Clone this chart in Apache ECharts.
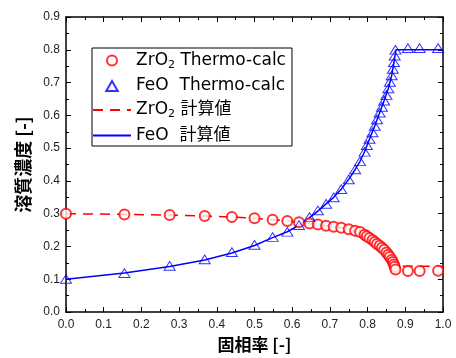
<!DOCTYPE html>
<html>
<head>
<meta charset="utf-8">
<script src="https://cdn.jsdelivr.net/npm/echarts@6/dist/echarts.min.js"></script>
<style>
  html, body { margin: 0; padding: 0; background: #fff; }
  #main { width: 456px; height: 358px; }
</style>
</head>
<body>
<div id="main"></div>
<script>
// Thermo-calc points (same solid fractions for both solutes)
const tcX = [0, 0.155, 0.275, 0.368, 0.44, 0.5, 0.548, 0.587, 0.618, 0.646, 0.668, 0.69, 0.71, 0.73, 0.75, 0.767,
  0.78, 0.792, 0.798, 0.805, 0.813, 0.819, 0.825, 0.832, 0.838, 0.844, 0.85, 0.855, 0.859, 0.864, 0.867, 0.87,
  0.872, 0.874, 0.907, 0.938, 0.987];
const zrTC = [0.30, 0.298, 0.296, 0.293, 0.29, 0.286, 0.282, 0.278, 0.274, 0.27, 0.267, 0.263, 0.26, 0.257, 0.253, 0.248,
  0.244, 0.236, 0.231, 0.226, 0.22, 0.214, 0.208, 0.202, 0.196, 0.19, 0.182, 0.175, 0.168, 0.16, 0.153, 0.145,
  0.138, 0.13, 0.125, 0.125, 0.126];
const feTC = [0.101, 0.119, 0.141, 0.161, 0.183, 0.205, 0.229, 0.245, 0.265, 0.29, 0.31, 0.33, 0.35, 0.375, 0.405, 0.435,
  0.46, 0.489, 0.509, 0.528, 0.548, 0.568, 0.588, 0.608, 0.626, 0.645, 0.662, 0.682, 0.702, 0.722, 0.742, 0.762,
  0.782, 0.80, 0.805, 0.805, 0.805];

// calculated curves
const calcX = [0, 0.155, 0.275, 0.368, 0.44, 0.5, 0.548, 0.587, 0.618, 0.646, 0.668, 0.69, 0.71, 0.73, 0.75, 0.767,
  0.78, 0.792, 0.805, 0.819, 0.832, 0.844, 0.855, 0.864, 0.87, 0.875, 0.88, 1.0];
const zrCalc = [0.30, 0.298, 0.296, 0.293, 0.29, 0.286, 0.282, 0.278, 0.274, 0.27, 0.267, 0.263, 0.26, 0.257, 0.253, 0.248,
  0.244, 0.236, 0.226, 0.214, 0.202, 0.19, 0.175, 0.16, 0.145, 0.13, 0.14, 0.14];
const feCalc = [0.10, 0.119, 0.139, 0.159, 0.18, 0.203, 0.227, 0.245, 0.265, 0.288, 0.308, 0.33, 0.35, 0.375, 0.405, 0.435,
  0.46, 0.489, 0.528, 0.568, 0.608, 0.645, 0.682, 0.722, 0.762, 0.80, 0.80, 0.80];

const xTicks = ['0.0', '0.1', '0.2', '0.3', '0.4', '0.5', '0.6', '0.7', '0.8', '0.9', '1.0'];

const pairs = (xs, ys) => xs.map((x, i) => [x, ys[i]]);

const chart = echarts.init(document.getElementById('main'));
const lblFont = 'Liberation Sans, Arial, sans-serif';
const jpFont = 'Noto Sans CJK JP, sans-serif';
const legFont = 'DejaVu Sans, Noto Sans CJK JP, sans-serif';
const triPath = 'path://M5,0 L10,8.7 L0,8.7 Z';

const axisCommon = {
  type: 'value',
  axisLine: { show: true, onZero: false, lineStyle: { color: '#000', width: 1.5 } },
  axisTick: { show: true, inside: true, length: 5, lineStyle: { color: '#000', width: 1 } },
  minorTick: { show: true, splitNumber: 2, length: 3, lineStyle: { color: '#000', width: 1 } },
  splitLine: { show: false }
};

const option = {
  animation: false,
  backgroundColor: '#fff',
  grid: { left: 66, right: 13, top: 17, bottom: 39 },
  xAxis: [
    Object.assign({}, axisCommon, {
      min: 0, max: 1, interval: 0.1, position: 'bottom',
      axisLabel: { color: '#222', fontSize: 12, fontFamily: lblFont, margin: 7,
        formatter: v => xTicks[Math.round(v * 10)] },
      name: '固相率 [-]', nameLocation: 'middle', nameGap: 20,
      nameTextStyle: { fontSize: 17, fontWeight: 'bold', fontFamily: jpFont, color: '#000' }
    }),
    Object.assign({}, axisCommon, {
      min: 0, max: 1, interval: 0.1, position: 'top', axisLabel: { show: false }
    })
  ],
  yAxis: [
    Object.assign({}, axisCommon, {
      min: 0, max: 0.9, interval: 0.1, position: 'left',
      axisLabel: { color: '#222', fontSize: 12, fontFamily: lblFont, margin: 6,
        formatter: v => v.toFixed(1) },
      name: '溶質濃度 [-]', nameLocation: 'middle', nameGap: 31, nameRotate: 90,
      nameTextStyle: { fontSize: 18, fontWeight: 'bold', fontFamily: jpFont, color: '#000' }
    }),
    Object.assign({}, axisCommon, {
      min: 0, max: 0.9, interval: 0.1, position: 'right', axisLabel: { show: false }
    })
  ],
  legend: {
    orient: 'vertical',
    left: 92, top: 48,
    padding: [4, 6, 2, 0],
    itemGap: 7,
    itemWidth: 38, itemHeight: 10,
    borderColor: '#000', borderWidth: 1,
    borderRadius: 0,
    symbolKeepAspect: true,
    data: ['zrTC', 'feTC', 'zrCalc', 'feCalc'],
    formatter: name => ({
      zrTC: '{t|ZrO}{s|2}{t| Thermo-calc}',
      feTC: '{t|FeO  Thermo-calc}',
      zrCalc: '{t|ZrO}{s|2}{t| 計算値}',
      feCalc: '{t|FeO  計算値}'
    })[name],
    textStyle: {
      color: '#000',
      rich: {
        t: { fontSize: 17, lineHeight: 18, fontFamily: legFont, color: '#000' },
        s: { fontSize: 11, fontFamily: legFont, color: '#000', verticalAlign: 'bottom', padding: [9, 0, 0, 0] }
      }
    }
  },
  series: [
    {
      name: 'zrTC', type: 'scatter', data: pairs(tcX, zrTC),
      symbol: 'emptyCircle', symbolSize: 10, z: 3,
      itemStyle: { color: '#ff0000', borderColor: '#ff0000', borderWidth: 1 }
    },
    {
      name: 'feTC', type: 'scatter', data: pairs(tcX, feTC),
      symbol: triPath, symbolSize: [11, 10], symbolKeepAspect: true, z: 3,
      itemStyle: { color: 'rgba(0,0,0,0)', borderColor: '#0000ff', borderWidth: 1 }
    },
    {
      name: 'zrCalc', type: 'line', data: pairs(calcX, zrCalc),
      showSymbol: false, symbol: 'circle', z: 2,
      lineStyle: { color: '#ff0000', width: 1.5, type: [10, 7] },
      itemStyle: { color: 'rgba(0,0,0,0)', borderColor: 'rgba(0,0,0,0)' }
    },
    {
      name: 'feCalc', type: 'line', data: pairs(calcX, feCalc),
      showSymbol: false, symbol: 'circle', z: 2,
      lineStyle: { color: '#0000ff', width: 1.5 },
      itemStyle: { color: 'rgba(0,0,0,0)', borderColor: 'rgba(0,0,0,0)' }
    }
  ]
};

chart.setOption(option);
</script>
</body>
</html>
